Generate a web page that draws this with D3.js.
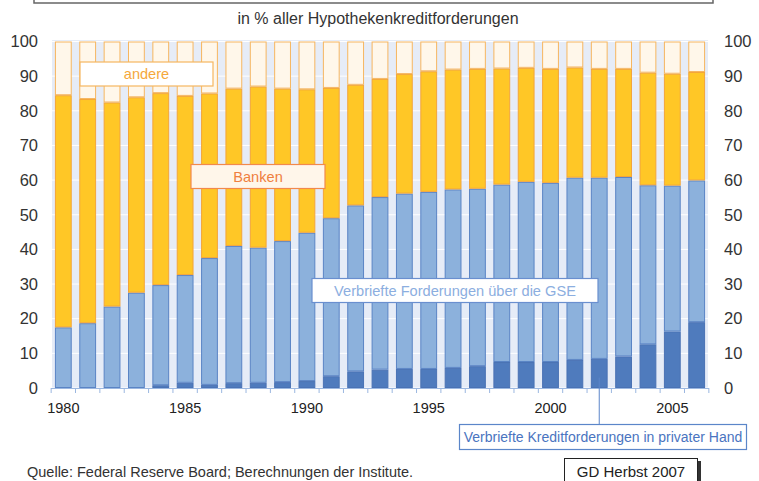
<!DOCTYPE html>
<html>
<head>
<meta charset="utf-8">
<script src="https://cdnjs.cloudflare.com/ajax/libs/d3/7.8.5/d3.min.js"></script>
<style>
  body { margin: 0; background: #fff; }
  svg { font-family: "Liberation Sans", Arial, sans-serif; }
</style>
</head>
<body>
<div class="chart"></div>
<script>
// categories
var years = [1980, 1981, 1982, 1983, 1984, 1985, 1986, 1987, 1988, 1989,
             1990, 1991, 1992, 1993, 1994, 1995, 1996, 1997, 1998, 1999,
             2000, 2001, 2002, 2003, 2004, 2005, 2006];

// shares in % (bottom to top)
var privat = [0, 0, 0, 0, 0.8, 1.5, 0.9, 1.4, 1.5, 1.7, 2.0, 3.4, 4.8, 5.3,
              5.5, 5.5, 5.8, 6.3, 7.5, 7.5, 7.5, 8.1, 8.4, 9.1, 12.6, 16.3, 19.0];
var gse = [17.5, 18.7, 23.5, 27.5, 28.9, 31.1, 36.6, 39.6, 39.0, 40.7, 42.8, 45.6, 47.9, 49.8,
           50.6, 51.1, 51.5, 51.2, 51.2, 52.0, 51.7, 52.6, 52.3, 51.8, 45.9, 42.1, 40.9];
var banken = [67.0, 64.7, 58.9, 56.4, 55.4, 51.7, 47.5, 45.4, 46.5, 44.0, 41.4, 37.6, 34.8, 34.1,
              34.5, 34.8, 34.6, 34.6, 33.5, 32.9, 32.9, 31.8, 31.4, 31.2, 32.5, 32.3, 31.3];
var andere = [15.5, 16.6, 17.6, 16.1, 14.9, 15.7, 15.0, 13.6, 13.0, 13.6, 13.8, 13.4, 12.5, 10.8,
              9.4, 8.6, 8.1, 7.9, 7.8, 7.6, 7.9, 7.5, 7.9, 7.9, 9.0, 9.3, 8.8];

// tick labels
var yTicks = [0, 10, 20, 30, 40, 50, 60, 70, 80, 90, 100];
var yearLabels = [1980, 1985, 1990, 1995, 2000, 2005];

var Chart = function() {

  return {

    init: function() {

      var svg = d3.select(".chart").append("svg")
        .attr("width", 759)
        .attr("height", 481);

      // frame line cut off at the top
      svg.append("path")
        .attr("d", "M34,0 V3 H713 V0")
        .style("fill", "none")
        .style("stroke", "#666")
        .style("stroke-width", 1.5);

      svg.append("text")
        .attr("x", 378)
        .attr("y", 24)
        .attr("text-anchor", "middle")
        .style("font-size", "16px")
        .style("fill", "#333")
        .text("in % aller Hypothekenkreditforderungen");

      var x = d3.scaleBand()
        .domain(years)
        .range([52, 708])
        .paddingInner(0.31)
        .paddingOuter(0.12);

      var y = d3.scaleLinear()
        .domain([0, 100])
        .range([388, 41.5]);

      // plot background
      svg.append("rect")
        .attr("x", 52)
        .attr("y", 40)
        .attr("width", 656)
        .attr("height", 348)
        .style("fill", "#e6ecf7");

      // white grid lines
      svg.append("g").selectAll("line")
        .data(yTicks)
        .enter()
        .append("line")
        .attr("x1", 52)
        .attr("x2", 708)
        .attr("y1", function(d) { return y(d); })
        .attr("y2", function(d) { return y(d); })
        .style("stroke", "#fff")
        .style("stroke-width", 1);

      // stacked bars
      var table = years.map(function(yr, i) {
        return { year: yr, privat: privat[i], gse: gse[i], banken: banken[i], andere: andere[i] };
      });
      var keys = ["privat", "gse", "banken", "andere"];
      var fills = { privat: "#4f7bbd", gse: "#8cb1dc", banken: "#ffc726", andere: "#fff7ea" };
      var strokes = { privat: "#4a72b4", gse: "#5a84c5", banken: "#f3a53a", andere: "#f6b660" };

      var layers = d3.stack().keys(keys)(table);

      svg.append("g").selectAll("g")
        .data(layers)
        .enter()
        .append("g")
        .style("fill", function(d) { return fills[d.key]; })
        .style("stroke", function(d) { return strokes[d.key]; })
        .selectAll("rect")
        .data(function(d) { return d.filter(function(p) { return p[1] - p[0] > 0; }); })
        .enter()
        .append("rect")
        .attr("x", function(d) { return x(d.data.year) + 0.5; })
        .attr("y", function(d) { return y(d[1]) + 0.5; })
        .attr("width", x.bandwidth() - 1)
        .attr("height", function(d) { return Math.max(0, y(d[0]) - y(d[1]) - 1); })
        .style("stroke-width", 1);

      // y axes left and right
      var leftAxis = svg.append("g")
        .attr("transform", "translate(52,0)")
        .call(d3.axisLeft(y).tickValues(yTicks).tickSize(0).tickPadding(14));
      var rightAxis = svg.append("g")
        .attr("transform", "translate(708,0)")
        .call(d3.axisRight(y).tickValues(yTicks).tickSize(0).tickPadding(16));
      [leftAxis, rightAxis].forEach(function(a) {
        a.select(".domain").remove();
        a.selectAll("text")
          .style("font-size", "16.5px")
          .style("fill", "#333")
          .attr("font-family", null);
      });

      // x axis: line, ticks between bars, year labels
      var gap = (x.step() - x.bandwidth()) / 2;
      var xAxis = svg.append("g");
      xAxis.append("line")
        .attr("x1", 51)
        .attr("x2", 709)
        .attr("y1", 388.5)
        .attr("y2", 388.5)
        .style("stroke", "#9bb7e0");
      xAxis.selectAll("line.tick")
        .data(years.concat([null]))
        .enter()
        .append("line")
        .attr("class", "tick")
        .attr("x1", function(d) { return d === null ? x(2006) + x.bandwidth() + gap : x(d) - gap; })
        .attr("x2", function(d) { return d === null ? x(2006) + x.bandwidth() + gap : x(d) - gap; })
        .attr("y1", 388)
        .attr("y2", 393)
        .style("stroke", "#9bb7e0");

      var labels = svg.append("g")
        .attr("transform", "translate(0,388)")
        .call(d3.axisBottom(x).tickValues(yearLabels).tickSize(0).tickPadding(15));
      labels.select(".domain").remove();
      labels.selectAll("text")
        .style("font-size", "14.5px")
        .style("fill", "#222")
        .attr("font-family", null);

      // series labels
      var boxes = [
        { text: "andere", x: 80, y: 62, w: 133, h: 24, fill: "#fff", stroke: "#f6b660", color: "#f5a83c" },
        { text: "Banken", x: 191, y: 164.5, w: 134, h: 24, fill: "#fff6ea", stroke: "#f2894c", color: "#ef7f40" },
        { text: "Verbriefte Forderungen über die GSE", x: 312, y: 278.5, w: 286, h: 24, fill: "#fff", stroke: "#6a8fcf", color: "#8caee0" },
        { text: "Verbriefte Kreditforderungen in privater Hand", x: 459.5, y: 424.5, w: 287, h: 25, fill: "#fff", stroke: "#5b86c9", color: "#4a74c0" }
      ];

      // pointer from the 2002 bar to its label
      svg.append("line")
        .attr("x1", x(2002) + x.bandwidth() / 2)
        .attr("x2", x(2002) + x.bandwidth() / 2)
        .attr("y1", y(3))
        .attr("y2", 424.5)
        .style("stroke", "#5b86c9");

      var box = svg.append("g").selectAll("g")
        .data(boxes)
        .enter()
        .append("g");
      box.append("rect")
        .attr("x", function(d) { return d.x; })
        .attr("y", function(d) { return d.y; })
        .attr("width", function(d) { return d.w; })
        .attr("height", function(d) { return d.h; })
        .style("fill", function(d) { return d.fill; })
        .style("stroke", function(d) { return d.stroke; })
        .style("stroke-width", 1.2);
      box.append("text")
        .attr("x", function(d) { return d.x + d.w / 2; })
        .attr("y", function(d) { return d.y + d.h / 2 + 5; })
        .attr("text-anchor", "middle")
        .style("font-size", function(d, i) { return i === 3 ? "14px" : "14.6px"; })
        .style("fill", function(d) { return d.color; })
        .text(function(d) { return d.text; });

      // source
      svg.append("text")
        .attr("x", 27)
        .attr("y", 477)
        .style("font-size", "14.5px")
        .style("fill", "#333")
        .text("Quelle: Federal Reserve Board; Berechnungen der Institute.");

      // GD box with shadow
      svg.append("rect")
        .attr("x", 698)
        .attr("y", 461)
        .attr("width", 3)
        .attr("height", 30)
        .style("fill", "#333");
      svg.append("rect")
        .attr("x", 564.5)
        .attr("y", 458.5)
        .attr("width", 133)
        .attr("height", 30)
        .style("fill", "#fff")
        .style("stroke", "#222")
        .style("stroke-width", 1);
      svg.append("text")
        .attr("x", 631)
        .attr("y", 477)
        .attr("text-anchor", "middle")
        .style("font-size", "15px")
        .style("fill", "#222")
        .text("GD Herbst 2007");

    }

  };

}();

Chart.init();
</script>
</body>
</html>
